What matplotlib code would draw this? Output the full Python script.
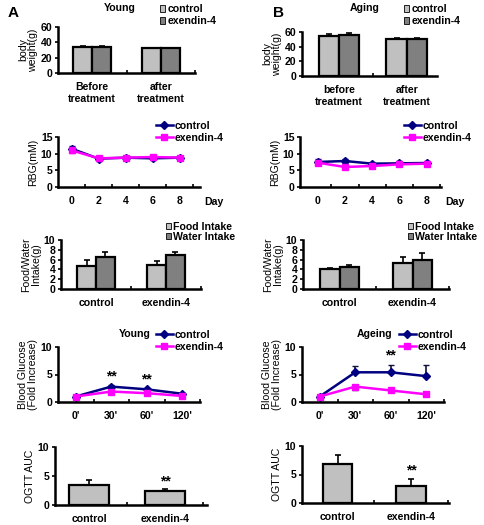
import numpy as np
import matplotlib
matplotlib.use('Agg')
import matplotlib.pyplot as plt
from matplotlib.patches import Patch
from matplotlib.lines import Line2D

plt.rcParams['font.family'] = ['Liberation Sans', 'DejaVu Sans']
plt.rcParams['font.weight'] = 'bold'
plt.rcParams['font.size'] = 7.6

# ---- data ----
groups_bw = ['Before\ntreatment', 'after\ntreatment']
groups_bw_b = ['before\ntreatment', 'after\ntreatment']
bw_young_ctrl = [34, 32]
bw_young_ex = [34, 32]
bw_young_err = [1.5, 1.0]
bw_aging_ctrl = [55, 51]
bw_aging_ex = [56, 51]
bw_aging_err = [2.0, 1.5]

days = [0, 2, 4, 6, 8]
rbg_young_ctrl = [11.5, 8.5, 8.8, 8.6, 8.8]
rbg_young_ex = [11.0, 8.6, 8.8, 9.0, 8.8]
rbg_young_err = [0.8, 0.6, 0.6, 0.6, 0.6]
rbg_aging_ctrl = [7.5, 7.8, 7.0, 7.1, 7.2]
rbg_aging_ex = [7.3, 6.0, 6.3, 6.8, 7.0]
rbg_aging_err = [0.8, 0.7, 0.6, 0.6, 0.6]

groups_trt = ['control', 'exendin-4']
food_young = [4.7, 4.9]
water_young = [6.5, 6.9]
food_young_err = [1.2, 0.8]
water_young_err = [1.1, 0.7]
food_aging = [4.0, 5.4]
water_aging = [4.5, 6.0]
food_aging_err = [0.3, 1.1]
water_aging_err = [0.5, 1.4]

ogtt_times = ["0'", "30'", "60'", "120'"]
bg_young_ctrl = [1.0, 2.8, 2.3, 1.5]
bg_young_ex = [1.0, 1.9, 1.6, 1.1]
bg_young_err = [0.1, 0.3, 0.3, 0.2]
bg_aging_ctrl = [1.0, 5.4, 5.4, 4.7]
bg_aging_ex = [1.0, 2.8, 2.1, 1.4]
bg_aging_err = [0.1, 1.2, 1.3, 2.0]
bg_aging_ex_err = [0.1, 0.6, 0.2, 0.2]

auc_young = [3.5, 2.4]
auc_young_err = [0.8, 0.3]
auc_aging = [6.9, 3.0]
auc_aging_err = [1.6, 1.2]

W, H = 484, 525
LIGHT, DARK = '#c0c0c0', '#808080'
NAVY, MAG = '#000080', '#ff00ff'

fig = plt.figure(figsize=(W / 100, H / 100), dpi=100)


def px_axes(x0, x1, top, bot):
    ax = fig.add_axes([x0 / W, 1 - bot / H, (x1 - x0) / W, (bot - top) / H])
    for s in ['top', 'right']:
        ax.spines[s].set_visible(False)
    for s in ['left', 'bottom']:
        ax.spines[s].set_linewidth(1.8)
    ax.tick_params(axis='y', length=2, width=1.2, pad=2)
    ax.tick_params(axis='x', which='major', length=0, pad=6.5)
    ax.tick_params(axis='x', which='minor', length=2, width=1.2, direction='in')
    return ax


def fig_legend(ax, handles, labels, x, y, spacing=0.2, **kw):
    leg = ax.legend(handles, labels, loc='upper left', bbox_to_anchor=(x / W, 1 - y / H),
                    bbox_transform=fig.transFigure, frameon=False, borderpad=0,
                    borderaxespad=0, labelspacing=spacing, handletextpad=0.2, **kw)
    return leg


def pair_bars(ax, a, b, ea, eb, w):
    x = np.arange(len(a))
    ax.bar(x - w / 2, a, w, color=LIGHT, edgecolor='black', linewidth=1.6,
           yerr=[np.zeros(len(a)), ea], error_kw=dict(ecolor='black', elinewidth=1.2, capsize=2, capthick=1.2))
    ax.bar(x + w / 2, b, w, color=DARK, edgecolor='black', linewidth=1.6,
           yerr=[np.zeros(len(b)), eb], error_kw=dict(ecolor='black', elinewidth=1.2, capsize=2, capthick=1.2))
    ax.set_xticks(x)
    ax.set_xticks([0.5, 1.5], minor=True)


bar_handles = [Patch(facecolor=LIGHT, edgecolor='black', linewidth=0.6),
               Patch(facecolor=DARK, edgecolor='black', linewidth=0.6)]
line_handles = [Line2D([], [], color=NAVY, marker='D', markersize=4, linewidth=1.8),
                Line2D([], [], color=MAG, marker='s', markersize=5, linewidth=1.8)]

# ---------- Row 1: body weight ----------
ax = px_axes(58, 195, 27, 73)
pair_bars(ax, bw_young_ctrl, bw_young_ex, bw_young_err, bw_young_err, 0.28)
ax.set_xticklabels(groups_bw)
ax.set_xlim(-0.5, 1.5)
ax.set_ylim(0, 60)
ax.set_yticks([0, 20, 40, 60])
ax.set_ylabel('body\nweight(g)', labelpad=2, linespacing=1.0)
fig.text(120 / W, 1 - 8 / H, 'Young', ha='center', va='center')
fig_legend(ax, bar_handles, ['control', 'exendin-4'], 160, 4, handlelength=0.5, handleheight=0.6)

ax = px_axes(302, 437, 32, 76)
pair_bars(ax, bw_aging_ctrl, bw_aging_ex, bw_aging_err, bw_aging_err, 0.3)
ax.set_xticklabels(groups_bw_b)
ax.set_xlim(-0.55, 1.45)
ax.set_ylim(0, 60)
ax.set_yticks([0, 20, 40, 60])
ax.set_ylabel('body\nweight(g)', labelpad=2, linespacing=1.0)
fig.text(365 / W, 1 - 8 / H, 'Aging', ha='center', va='center')
fig_legend(ax, bar_handles, ['control', 'exendin-4'], 404, 4, handlelength=0.5, handleheight=0.6)

fig.text(8 / W, 1 - 13 / H, 'A', fontsize=11, ha='left', va='center')
fig.text(273 / W, 1 - 13 / H, 'B', fontsize=11, ha='left', va='center')

# ---------- Row 2: RBG ----------
for x0, x1, xlo, xhi, ctrl, ex, err, lx in [
        (58, 200, -1.0, 9.5, rbg_young_ctrl, rbg_young_ex, rbg_young_err, 156),
        (300, 441, -1.3, 9.05, rbg_aging_ctrl, rbg_aging_ex, rbg_aging_err, 404)]:
    ax = px_axes(x0, x1, 137, 187)
    ax.errorbar(days, ctrl, yerr=err, color=NAVY, marker='D', markersize=4, linewidth=1.8,
                elinewidth=1.0, capsize=2)
    ax.errorbar(days, ex, yerr=err, color=MAG, marker='s', markersize=5, linewidth=1.8,
                elinewidth=1.0, capsize=2)
    ax.set_xlim(xlo, xhi)
    ax.set_ylim(0, 15)
    ax.set_yticks([0, 5, 10, 15])
    ax.set_xticks(days)
    ax.set_xticks([1, 3, 5, 7, 9], minor=True)
    ax.set_ylabel('RBG(mM)', labelpad=2)
    fig.text((x1 + 4) / W, 1 - 202 / H, 'Day', ha='left', va='center')
    fig_legend(ax, line_handles, ['control', 'exendin-4'], lx, 121, handlelength=1.6)

# ---------- Row 3: food / water ----------
for x0, x1, food, water, fe, we, lx in [
        (61, 201, food_young, water_young, food_young_err, water_young_err, 166),
        (303, 449, food_aging, water_aging, food_aging_err, water_aging_err, 408)]:
    ax = px_axes(x0, x1, 240, 289)
    pair_bars(ax, food, water, fe, we, 0.27)
    ax.set_xticklabels(groups_trt)
    ax.set_xlim(-0.5, 1.5)
    ax.set_ylim(0, 10)
    ax.set_yticks([0, 2, 4, 6, 8, 10])
    ax.set_ylabel('Food/Water\nIntake(g)', labelpad=2, linespacing=1.0)
    fig_legend(ax, bar_handles, ['Food Intake', 'Water Intake'], lx, 222, spacing=0.0,
               handlelength=0.5, handleheight=0.5)

# ---------- Row 4: blood glucose ----------
for x0, x1, xhi, ctrl, ex, err, exerr, title, tx, lx, stars in [
        (58, 200, 3.5, bg_young_ctrl, bg_young_ex, bg_young_err, bg_young_err, 'Young', 135, 156,
         [(1, 3.3), (2, 2.9)]),
        (302, 444, 3.45, bg_aging_ctrl, bg_aging_ex, bg_aging_err, bg_aging_ex_err, 'Ageing', 375, 399,
         [(2, 7.1)])]:
    ax = px_axes(x0, x1, 347, 402)
    xs = np.arange(len(ogtt_times))
    ax.errorbar(xs, ctrl, yerr=[np.zeros(4), err], color=NAVY, marker='D', markersize=4,
                linewidth=1.8, elinewidth=1.2, capsize=2, ecolor='#101040')
    ax.errorbar(xs, ex, yerr=[exerr, np.zeros(4)], color=MAG, marker='s', markersize=5,
                linewidth=1.8, elinewidth=1.2, capsize=2, ecolor='#303030')
    for sx, sy in stars:
        ax.text(sx, sy, '**', ha='center', va='bottom', fontsize=10)
    ax.set_xlim(-0.5, xhi)
    ax.set_ylim(0, 10)
    ax.set_yticks([0, 5, 10])
    ax.set_xticks(xs)
    ax.set_xticklabels(ogtt_times)
    ax.set_xticks([0.5, 1.5, 2.5, 3.5], minor=True)
    ax.set_ylabel('Blood Glucose\n(Fold Increase)', labelpad=2, linespacing=1.0)
    fig.text(tx / W, 1 - 334 / H, title, ha='center', va='center')
    fig_legend(ax, line_handles, ['control', 'exendin-4'], lx, 330, handlelength=1.6)

# ---------- Row 5: OGTT AUC ----------
for x0, x1, top, bot, xlo, xhi, vals, errs, w, sy in [
        (55, 207, 447, 505, -0.45, 1.55, auc_young, auc_young_err, 0.53, 2.8),
        (302, 449, 446, 503, -0.49, 1.52, auc_aging, auc_aging_err, 0.4, 4.4)]:
    ax = px_axes(x0, x1, top, bot)
    xs = np.arange(2)
    ax.bar(xs, vals, w, color=LIGHT, edgecolor='black', linewidth=1.6,
           yerr=[np.zeros(2), errs], error_kw=dict(ecolor='black', elinewidth=1.2, capsize=2, capthick=1.2))
    ax.text(1, sy, '**', ha='center', va='bottom', fontsize=10)
    ax.set_xticks(xs)
    ax.set_xticklabels(groups_trt)
    ax.set_xticks([0.5, 1.5], minor=True)
    ax.set_xlim(xlo, xhi)
    ax.set_ylim(0, 10)
    ax.set_yticks([0, 5, 10])
    ax.set_ylabel('OGTT AUC', labelpad=2)

fig.savefig('out.png', dpi=100)
